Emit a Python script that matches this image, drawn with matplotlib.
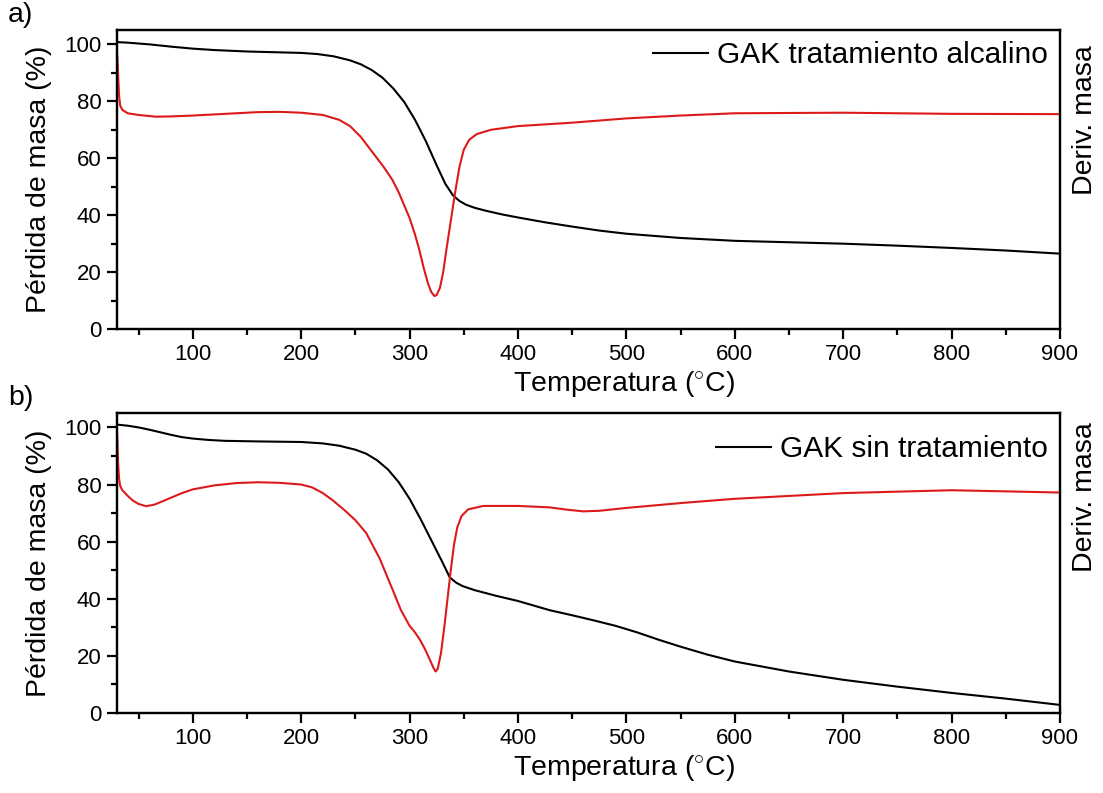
import matplotlib
matplotlib.use("Agg")
import matplotlib.pyplot as plt
from matplotlib.ticker import MultipleLocator

# ---- data ------------------------------------------------------------------
# (a) GAK tratamiento alcalino
tga_a_x = [30, 40, 60, 80, 100, 120, 150, 180, 200, 215, 230, 245, 255, 265, 275, 285, 295,
           305, 315, 325, 333, 340, 346, 352, 360, 370, 385, 400, 425, 450, 475, 500, 550,
           600, 650, 700, 750, 800, 850, 900]
tga_a_y = [100.8, 100.6, 100.0, 99.2, 98.5, 98.0, 97.5, 97.2, 97.0, 96.6, 95.8, 94.4, 93.0,
           91.0, 88.3, 84.5, 79.8, 73.5, 66.0, 57.5, 51.0, 47.0, 45.0, 43.7, 42.6, 41.6, 40.3,
           39.2, 37.5, 36.0, 34.6, 33.5, 32.0, 31.0, 30.5, 30.0, 29.3, 28.5, 27.6, 26.5]
dtg_a_x = [30, 30.5, 31, 32, 33, 35, 40, 50, 66, 80, 100, 120, 140, 160, 180, 200, 220, 235,
           245, 255, 265, 276, 284, 290, 295, 300, 305, 309, 313, 317, 320, 323, 325, 328,
           331, 334, 338, 342, 346, 350, 355, 362, 375, 400, 450, 500, 550, 600, 700, 800, 900]
dtg_a_y = [97.5, 95.0, 90.0, 82.0, 78.5, 77.0, 75.8, 75.2, 74.6, 74.7, 75.0, 75.4, 75.8, 76.2,
           76.3, 76.0, 75.2, 73.5, 71.3, 67.5, 62.5, 57.0, 52.5, 48.0, 43.5, 39.0, 33.2, 27.8,
           21.5, 16.0, 13.0, 11.6, 12.0, 14.5, 20.0, 28.0, 38.0, 48.0, 57.0, 63.0, 66.5, 68.5,
           70.0, 71.3, 72.5, 74.0, 75.0, 75.8, 76.0, 75.6, 75.5]

# (b) GAK sin tratamiento
tga_b_x = [30, 40, 50, 60, 70, 80, 90, 100, 115, 130, 160, 200, 220, 235, 250, 260, 270, 280,
           290, 300, 310, 320, 330, 337, 343, 349, 360, 380, 400, 429, 450, 470, 490, 510,
           530, 550, 575, 600, 650, 700, 750, 800, 850, 900]
tga_b_y = [101.0, 100.6, 100.0, 99.2, 98.3, 97.4, 96.6, 96.1, 95.6, 95.3, 95.1, 94.9, 94.4,
           93.6, 92.2, 90.8, 88.5, 85.3, 80.8, 75.0, 68.0, 60.5, 53.0, 47.5, 45.6, 44.4, 43.0,
           41.0, 39.2, 36.0, 34.2, 32.4, 30.5, 28.2, 25.6, 23.2, 20.4, 18.0, 14.5, 11.6, 9.2,
           7.0, 5.0, 2.8]
dtg_b_x = [30, 30.5, 31, 32, 33, 35, 40, 45, 50, 57, 65, 75, 90, 100, 120, 140, 160, 180, 200,
           210, 220, 229, 240, 250, 260, 272.5, 284.5, 292, 300, 305, 309.4, 314, 318.6, 322,
           324, 326, 329, 332, 335, 338, 341, 344, 348, 354, 368, 400, 429, 445, 460, 475,
           500, 550, 600, 650, 700, 750, 800, 850, 900]
dtg_b_y = [99.0, 95.0, 88.0, 82.0, 79.5, 78.0, 76.0, 74.3, 73.2, 72.4, 73.0, 74.6, 77.0, 78.3,
           79.7, 80.5, 80.8, 80.6, 80.0, 79.0, 77.0, 74.5, 71.0, 67.5, 63.0, 54.0, 43.0, 36.0,
           30.5, 28.2, 25.7, 22.5, 18.7, 15.8, 14.5, 15.5, 21.0, 30.0, 40.0, 50.0, 59.0, 65.0,
           69.0, 71.3, 72.5, 72.5, 72.0, 71.2, 70.6, 70.8, 71.8, 73.5, 75.0, 76.0, 77.0, 77.5,
           78.0, 77.6, 77.2]

PANELS = [
    ("a)", "GAK tratamiento alcalino", tga_a_x, tga_a_y, dtg_a_x, dtg_a_y),
    ("b)", "GAK sin tratamiento", tga_b_x, tga_b_y, dtg_b_x, dtg_b_y),
]

RED = "#dd1a1a"
plt.rcParams.update({
    "font.family": ["Liberation Sans", "DejaVu Sans"],
    "mathtext.fontset": "custom",
    "mathtext.rm": "Liberation Sans",
    "axes.linewidth": 1.6,
})

fig = plt.figure(figsize=(11.03, 7.93), dpi=100)
# axes boxes, legend vertical position and "Deriv. masa" centre (figure fraction)
boxes = [(0.106, 0.585, 0.855, 0.377), (0.106, 0.101, 0.855, 0.378)]
leg_y = [1 - 25 / 299, 1 - 36 / 300]
deriv_y = [1 - 120 / 793, 1 - 497 / 793]

for (tag, name, tx, ty, dx, dy), box, ly, ry in zip(PANELS, boxes, leg_y, deriv_y):
    ax = fig.add_axes(box)
    ax.plot(tx, ty, color="black", lw=1.5, label=name)
    ax.set_xlim(30, 900)
    ax.set_ylim(0, 105)
    ax.xaxis.set_major_locator(MultipleLocator(100))
    ax.xaxis.set_minor_locator(MultipleLocator(50))
    ax.yaxis.set_major_locator(MultipleLocator(20))
    ax.yaxis.set_minor_locator(MultipleLocator(10))
    ax.tick_params(which="major", direction="out", length=7, width=1.6, labelsize=16, pad=4)
    ax.tick_params(which="minor", direction="out", length=4, width=1.6)
    ax.set_xticks(range(100, 901, 100))
    ax.set_xlabel(r"Temperatura ($^{\circ}$C)", fontsize=20.5)
    ax.xaxis.set_label_coords(0.538, -0.135)
    ax.set_ylabel("Pérdida de masa (%)", fontsize=20.5)
    ax.yaxis.set_label_coords(-0.069, 0.5)
    ax.legend(loc="center right", bbox_to_anchor=(1.0, ly), frameon=False, fontsize=21.5,
              handlelength=1.85, handletextpad=0.3, borderaxespad=0)

    ax2 = ax.twinx()
    ax2.plot(dx, dy, color=RED, lw=1.5)
    ax2.set_ylim(0, 105)
    ax2.set_yticks([])

    fig.text(1085 / 1103, ry, "Deriv. masa", fontsize=20.5, rotation=90,
             ha="center", va="center")
    fig.text(0.007, box[1] + box[3] + 0.003, tag, fontsize=20.5, ha="left", va="bottom")

fig.savefig("out.png", dpi=100, facecolor="white")
